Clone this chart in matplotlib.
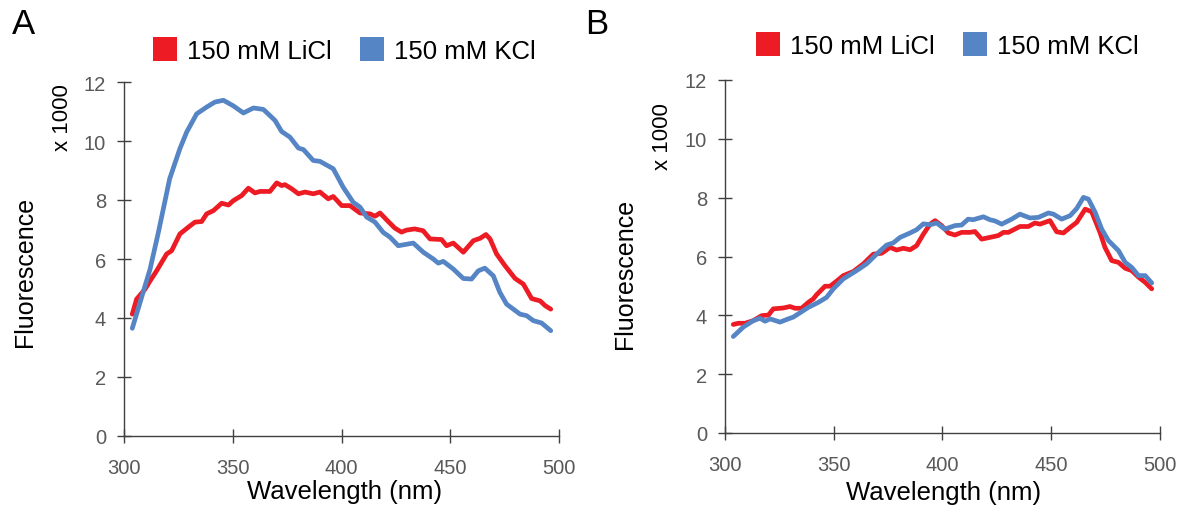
import matplotlib
matplotlib.use("Agg")
import matplotlib.pyplot as plt
from matplotlib.lines import Line2D

plt.rcParams['font.family'] = ['Liberation Sans', 'DejaVu Sans']

# ---- Data (fluorescence x 1000) ----
a_licl_wl = [303.8, 305.8, 309.7, 312, 315, 319.6, 321.9, 325.7, 329.6, 332.6, 335.7, 338, 341.1, 344.9,
             348, 350.3, 354.1, 357.2, 360.2, 362.5, 367.1, 370.2, 372.5, 374, 377.1, 380.2, 383.2, 387,
             390.1, 393.9, 396.2, 400.1, 403.9, 408.5, 413.1, 415.4, 417.7, 421.5, 424.5, 427.6, 429.9,
             433.7, 437.5, 440.7, 446, 448.3, 451.4, 456, 460.6, 463.7, 466.4, 468.3, 471.3, 475.2, 479.8,
             483.6, 487.4, 491.3, 493.6, 496.2]
a_licl = [4.13, 4.64, 4.98, 5.26, 5.6, 6.17, 6.28, 6.85, 7.08, 7.25, 7.27, 7.53, 7.64, 7.89,
          7.83, 7.98, 8.15, 8.4, 8.24, 8.29, 8.29, 8.58, 8.49, 8.52, 8.38, 8.21, 8.27, 8.21,
          8.27, 8.04, 8.12, 7.81, 7.81, 7.56, 7.53, 7.45, 7.56, 7.27, 7.05, 6.91, 6.98,
          7.02, 6.96, 6.68, 6.66, 6.45, 6.54, 6.23, 6.62, 6.7, 6.83, 6.68, 6.17, 5.77, 5.34,
          5.15, 4.66, 4.58, 4.42, 4.3]

a_kcl_wl = [303.8, 307.4, 312, 315.8, 321, 325.7, 328.8, 333.4, 338, 341.8, 345.7, 350.3, 354.9, 359.5,
            364.1, 369.4, 372.5, 376.3, 380.2, 382.5, 387, 390.1, 396.2, 400.8, 405.4, 408.5, 411.6,
            415.4, 419.2, 422.3, 426.1, 433, 437.6, 442.2, 444.5, 446.8, 451.4, 456, 459.8, 462.9,
            465.9, 469.8, 472.8, 475.9, 482.1, 485.1, 488.2, 492, 496.2]
a_kcl = [3.65, 4.53, 5.66, 6.9, 8.72, 9.74, 10.3, 10.92, 11.15, 11.32, 11.38, 11.19, 10.95, 11.12,
         11.07, 10.7, 10.32, 10.13, 9.76, 9.71, 9.34, 9.31, 9.06, 8.43, 7.92, 7.76, 7.42,
         7.25, 6.9, 6.74, 6.45, 6.54, 6.23, 6.0, 5.86, 5.92, 5.66, 5.34, 5.32, 5.6,
         5.69, 5.43, 4.87, 4.47, 4.13, 4.08, 3.91, 3.83, 3.57]

b_licl_wl = [303.8, 306.1, 309.2, 313, 316.9, 320, 322.2, 326.8, 329.9, 332.2, 335.2, 338.3, 340.6, 342.1,
             346, 348.3, 350.6, 354.4, 359, 363.6, 368.2, 372, 375.9, 378.9, 382, 385.1, 388.1, 391.2,
             394.3, 396.6, 399.6, 402.7, 405.7, 408.8, 412.6, 414.9, 418, 421.8, 425.6, 428, 430.3,
             435.6, 439.5, 442.5, 444.8, 449.4, 452.5, 455.6, 458.7, 461.7, 465.6, 468.6, 472.4, 474.7,
             477.8, 480.9, 484, 487, 490.1, 493.2, 496.2]
b_licl = [3.69, 3.73, 3.73, 3.82, 3.99, 4.01, 4.22, 4.25, 4.3, 4.24, 4.24, 4.44, 4.56, 4.7,
          4.99, 4.99, 5.12, 5.35, 5.49, 5.75, 6.08, 6.11, 6.31, 6.22, 6.28, 6.23, 6.37, 6.76,
          7.1, 7.22, 7.05, 6.8, 6.73, 6.82, 6.82, 6.85, 6.59, 6.65, 6.71, 6.82, 6.82,
          7.02, 7.02, 7.14, 7.1, 7.22, 6.84, 6.8, 6.99, 7.16, 7.61, 7.52, 6.82, 6.31,
          5.86, 5.8, 5.6, 5.52, 5.3, 5.12, 4.9]

b_kcl_wl = [303.8, 308.4, 313, 316.1, 318.4, 320.7, 325.3, 329.1, 331.4, 333.7, 338.3, 342.9, 346.7, 349.8,
            354.4, 360.5, 365.1, 369.7, 374.3, 377.3, 380.5, 385.1, 388.1, 391.2, 394.3, 397.3, 401.1,
            405.7, 408.8, 411.8, 414.1, 418.8, 421.8, 424.1, 427.2, 431.8, 435.6, 440.2, 444.1, 448.7,
            451, 454.8, 458.7, 461.7, 464.8, 467.1, 470.2, 473.2, 476.3, 480.9, 484, 487, 490.1,
            493.2, 496.2]
b_kcl = [3.28, 3.6, 3.82, 3.9, 3.8, 3.88, 3.77, 3.88, 3.94, 4.05, 4.27, 4.44, 4.61, 4.9,
         5.24, 5.52, 5.75, 6.08, 6.39, 6.46, 6.65, 6.8, 6.91, 7.11, 7.08, 7.14, 6.93,
         7.05, 7.07, 7.27, 7.25, 7.35, 7.25, 7.21, 7.1, 7.27, 7.44, 7.31, 7.33, 7.48,
         7.44, 7.27, 7.39, 7.63, 8.01, 7.95, 7.5, 6.93, 6.54, 6.2, 5.8, 5.63, 5.35,
         5.35, 5.1]

series_labels = ['150 mM LiCl', '150 mM KCl']
x_ticks = [300, 350, 400, 450, 500]
y_ticks = [0, 2, 4, 6, 8, 10, 12]

RED = '#ED1C24'
BLUE = '#5585C5'
SPINE = '#404040'
TICKLBL = '#595959'

W, H = 1184, 510
fig = plt.figure(figsize=(W / 100, H / 100), dpi=100)

panels = [
    dict(rect=(124, 83, 559, 437), data=[(a_licl_wl, a_licl), (a_kcl_wl, a_kcl)], letter='A',
         letter_pos=(23, 25), leg_pos=(344, 52), fl_pos=(25, 272), x1000_pos=(63, 118), wl_pos=(345, 492)),
    dict(rect=(725, 81, 1160, 434), data=[(b_licl_wl, b_licl), (b_kcl_wl, b_kcl)], letter='B',
         letter_pos=(597, 25), leg_pos=(947, 47), fl_pos=(625, 274), x1000_pos=(663, 137), wl_pos=(944, 493)),
]

for p in panels:
    l, t, r, b = p['rect']
    ax = fig.add_axes([l / W, 1 - b / H, (r - l) / W, (b - t) / H])
    for (wl, vals), col in zip(p['data'], [RED, BLUE]):
        ax.plot(wl, vals, color=col, lw=3.4, solid_capstyle='round', solid_joinstyle='round')
    ax.set_xlim(300, 500)
    ax.set_ylim(0, 12)
    ax.set_xticks(x_ticks)
    ax.set_yticks(y_ticks)
    for s in ['top', 'right']:
        ax.spines[s].set_visible(False)
    for s in ['left', 'bottom']:
        ax.spines[s].set_color(SPINE)
        ax.spines[s].set_linewidth(1.0)
    ax.tick_params(direction='inout', length=10, width=1.0, color=SPINE,
                   labelcolor=TICKLBL, labelsize=14.5)
    ax.tick_params(axis='y', pad=8)
    ax.tick_params(axis='x', pad=11)
    for sp in ax.spines.values():
        sp.set_clip_on(False)

    fig.text(p['letter_pos'][0] / W, 1 - p['letter_pos'][1] / H, p['letter'],
             fontsize=25, ha='center', va='center')
    fig.text(p['fl_pos'][0] / W, 1 - p['fl_pos'][1] / H, 'Fluorescence',
             fontsize=18, rotation=90, ha='center', va='center')
    fig.text(p['x1000_pos'][0] / W, 1 - p['x1000_pos'][1] / H, 'x 1000',
             fontsize=16, rotation=90, ha='center', va='center')
    fig.text(p['wl_pos'][0] / W, 1 - p['wl_pos'][1] / H, 'Wavelength (nm)',
             fontsize=18.5, ha='center', va='center')

    handles = [Line2D([], [], ls='none', marker='s', markersize=17.5, color=c, markeredgewidth=0)
               for c in [RED, BLUE]]
    fig.legend(handles, series_labels, loc='center',
               bbox_to_anchor=(p['leg_pos'][0] / W, 1 - p['leg_pos'][1] / H),
               ncol=2, frameon=False, fontsize=18.5, handlelength=1.0, handletextpad=0.35,
               columnspacing=1.1, borderpad=0, borderaxespad=0)

fig.savefig('out.png', dpi=100)
